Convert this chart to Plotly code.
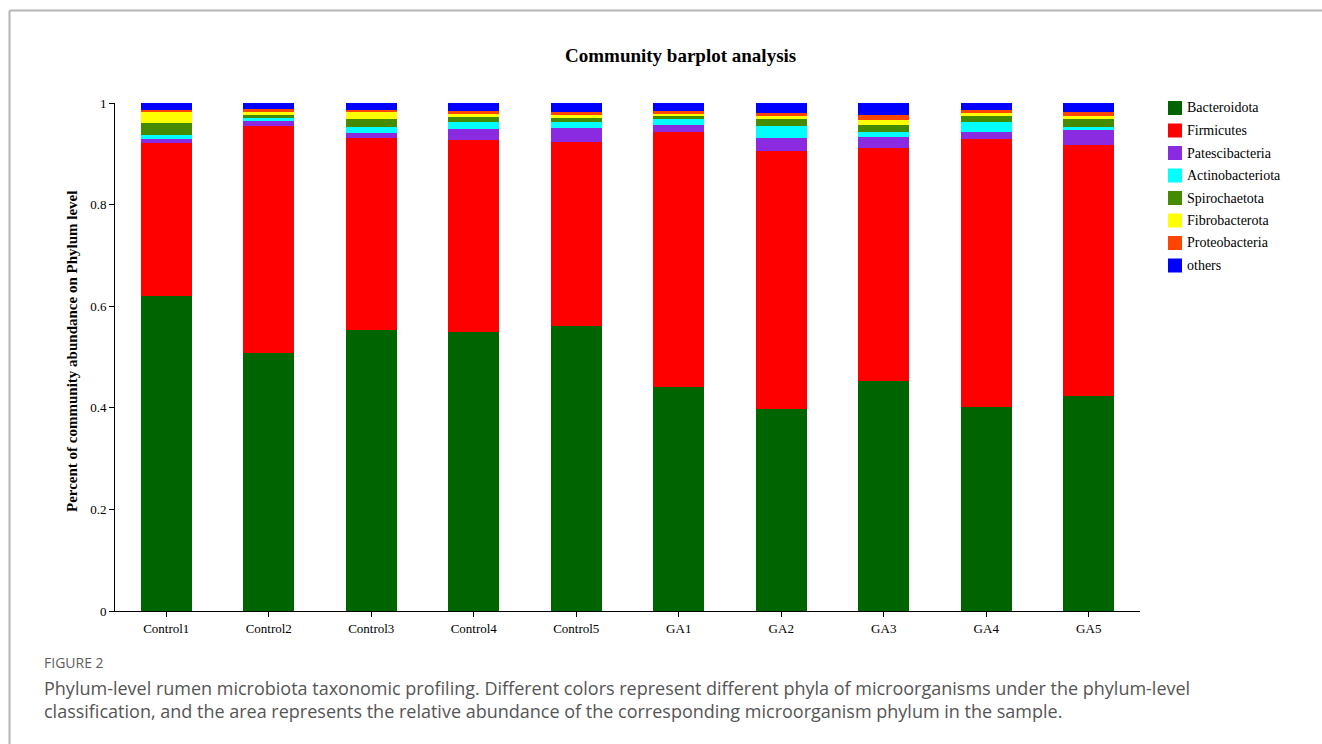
import plotly.graph_objects as go

samples = ["Control1", "Control2", "Control3", "Control4", "Control5",
           "GA1", "GA2", "GA3", "GA4", "GA5"]

phyla = ["Bacteroidota", "Firmicutes", "Patescibacteria", "Actinobacteriota",
         "Spirochaetota", "Fibrobacterota", "Proteobacteria", "others"]

bacteroidota     = [0.620, 0.508, 0.553, 0.549, 0.561, 0.441, 0.398, 0.453, 0.402, 0.423]
firmicutes       = [0.301, 0.446, 0.378, 0.378, 0.363, 0.502, 0.508, 0.459, 0.527, 0.495]
patescibacteria  = [0.008, 0.010, 0.010, 0.021, 0.027, 0.013, 0.025, 0.022, 0.013, 0.028]
actinobacteriota = [0.008, 0.007, 0.012, 0.015, 0.012, 0.012, 0.024, 0.008, 0.020, 0.007]
spirochaetota    = [0.024, 0.006, 0.016, 0.010, 0.008, 0.007, 0.013, 0.014, 0.012, 0.015]
fibrobacterota   = [0.022, 0.005, 0.015, 0.005, 0.005, 0.004, 0.006, 0.010, 0.007, 0.007]
proteobacteria   = [0.004, 0.007, 0.003, 0.006, 0.006, 0.005, 0.006, 0.010, 0.005, 0.007]
others           = [0.013, 0.011, 0.013, 0.016, 0.018, 0.016, 0.020, 0.024, 0.014, 0.018]

series = [bacteroidota, firmicutes, patescibacteria, actinobacteriota,
          spirochaetota, fibrobacterota, proteobacteria, others]
colors = ["#006400", "#FF0000", "#8A2BE2", "#00FFFF",
          "#458B00", "#FFFF00", "#FF4500", "#0000FF"]

y_ticks = [0, 0.2, 0.4, 0.6, 0.8, 1]
y_tick_labels = ["0", "0.2", "0.4", "0.6", "0.8", "1"]

SERIF = "Liberation Serif, Times New Roman, serif"
SANS = "Open Sans, Lato, sans-serif"

fig = go.Figure()
for name, vals, col in zip(phyla, series, colors):
    fig.add_trace(go.Bar(
        x=samples, y=vals, name=name,
        marker=dict(color=col, line=dict(width=0)),
        width=0.5, showlegend=False,
    ))

W, H = 1322, 744
L, R, T, B = 115, 1140, 103, 611

def px_x(p):
    return (p - L) / (R - L)

def px_y(p):
    return (B - p) / (B - T)

fig.update_layout(
    width=W, height=H,
    barmode="stack",
    paper_bgcolor="white",
    plot_bgcolor="white",
    margin=dict(l=L, r=W - R, t=T, b=H - B, pad=0),
    font=dict(family=SERIF, color="black", size=13),
    xaxis=dict(
        showline=True, linecolor="black", linewidth=1,
        ticks="outside", ticklen=5, tickcolor="black",
        showgrid=False, zeroline=False,
        tickfont=dict(family=SERIF, size=13),
        range=[-0.5, 9.5],
    ),
    yaxis=dict(
        range=[0, 1],
        tickvals=y_ticks, ticktext=y_tick_labels,
        showline=True, linecolor="black", linewidth=1,
        ticks="outside", ticklen=5, tickcolor="black",
        showgrid=False, zeroline=False,
        tickfont=dict(family=SERIF, size=13),
    ),
)

annotations = [
    dict(text="<b>Community barplot analysis</b>", x=px_x(680), y=px_y(56),
         xref="paper", yref="paper", showarrow=False,
         font=dict(family=SERIF, size=19, color="black"),
         xanchor="center", yanchor="middle"),
    dict(text="<b>Percent of community abundance on Phylum level</b>",
         x=px_x(72), y=px_y(352), xref="paper", yref="paper", showarrow=False,
         textangle=-90, font=dict(family=SERIF, size=15, color="black"),
         xanchor="center", yanchor="middle"),
    dict(text="FIGURE 2", x=px_x(42), y=px_y(662), xref="paper", yref="paper",
         showarrow=False, font=dict(family=SANS, size=14, color="#606060"),
         xanchor="left", yanchor="middle"),
    dict(text="Phylum-level rumen microbiota taxonomic profiling. Different colors represent different phyla of microorganisms under the phylum-level",
         x=px_x(42), y=px_y(688), xref="paper", yref="paper", showarrow=False,
         font=dict(family=SANS, size=18, color="#555555"),
         xanchor="left", yanchor="middle"),
    dict(text="classification, and the area represents the relative abundance of the corresponding microorganism phylum in the sample.",
         x=px_x(42), y=px_y(711), xref="paper", yref="paper", showarrow=False,
         font=dict(family=SANS, size=18, color="#555555"),
         xanchor="left", yanchor="middle"),
]

shapes = [
    dict(type="line", xref="paper", yref="paper",
         x0=px_x(9.5), x1=px_x(1322), y0=px_y(10.5), y1=px_y(10.5),
         line=dict(color="#b5b5b5", width=2)),
    dict(type="line", xref="paper", yref="paper",
         x0=px_x(9.5), x1=px_x(9.5), y0=px_y(10.5), y1=px_y(744),
         line=dict(color="#b5b5b5", width=2)),
]

# legend drawn manually for exact spacing
for i, (name, col) in enumerate(zip(phyla, colors)):
    cy = 108 + 22.5 * i
    shapes.append(dict(type="rect", xref="paper", yref="paper",
                       x0=px_x(1168), x1=px_x(1182),
                       y0=px_y(cy - 7), y1=px_y(cy + 7),
                       fillcolor=col, line=dict(width=0)))
    annotations.append(dict(text=name, x=px_x(1185), y=px_y(cy),
                            xref="paper", yref="paper", showarrow=False,
                            font=dict(family=SERIF, size=14, color="black"),
                            xanchor="left", yanchor="middle"))

fig.update_layout(annotations=annotations, shapes=shapes)

fig.write_html("out.html")
